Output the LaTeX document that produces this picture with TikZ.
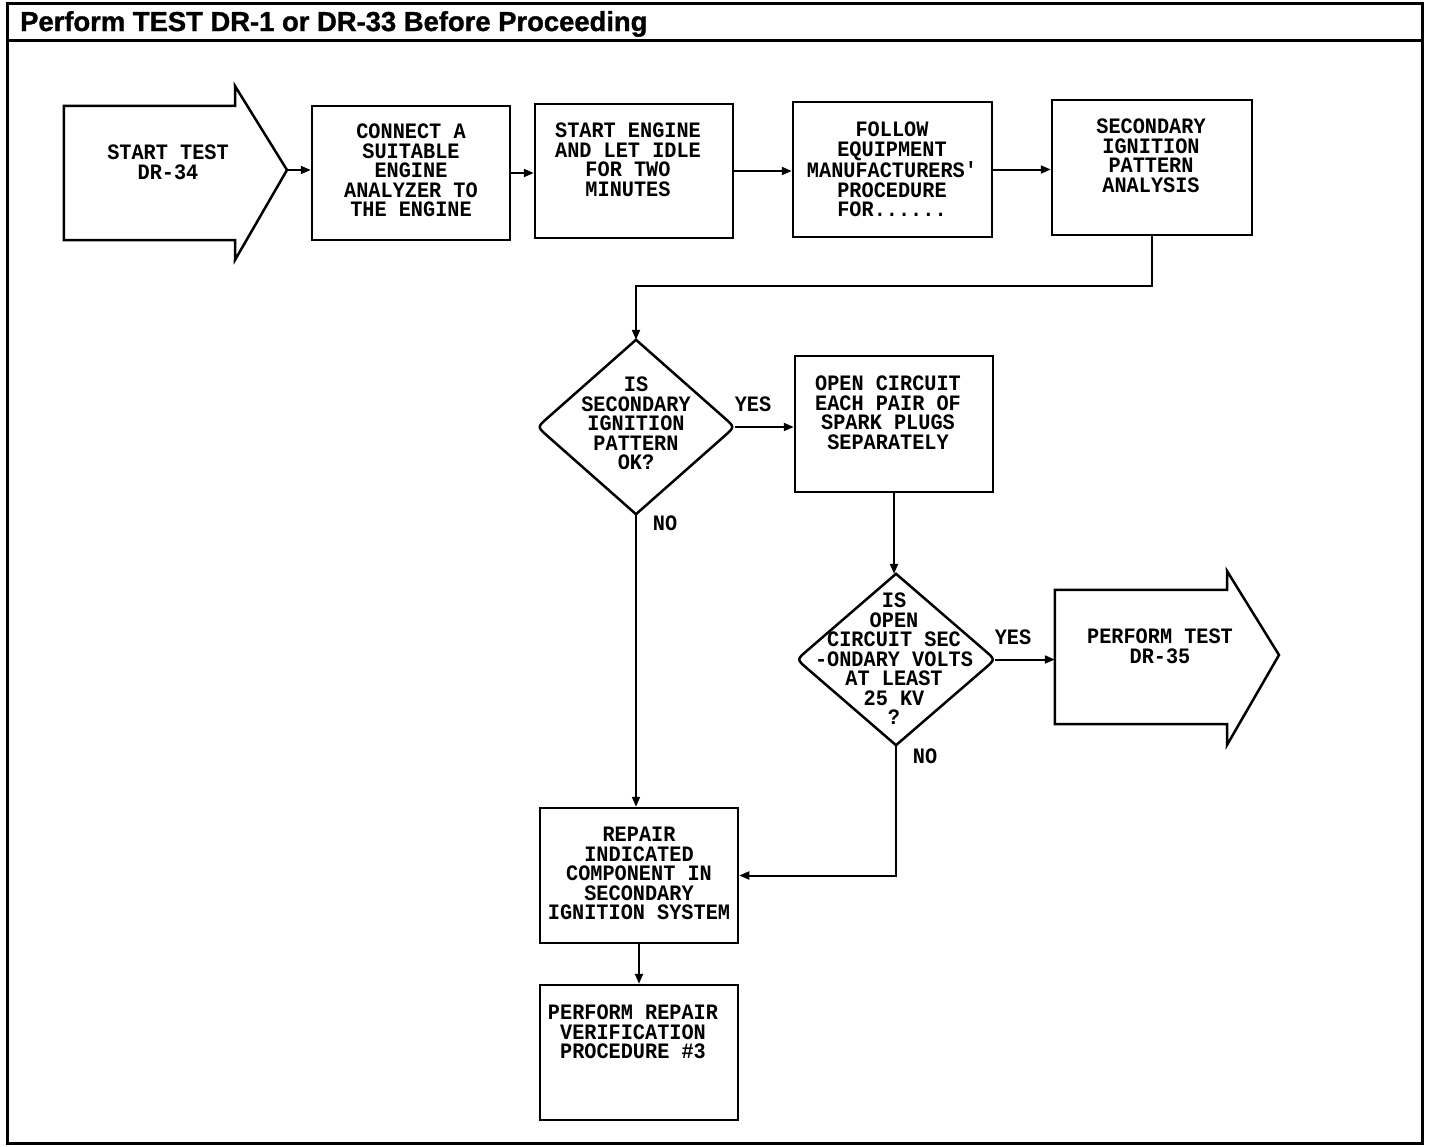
\documentclass[tikz,border=0pt]{standalone}
\usepackage{fontspec}
\setmainfont{Liberation Sans}
\newfontfamily\plotfont[FakeStretch=0.92]{Liberation Mono}
\newfontfamily\titlefont[FakeBold=1.2]{Liberation Sans}
\usetikzlibrary{arrows.meta,calc,shapes.geometric}
\tikzset{
  boxst/.style={draw, line width=2.5pt, rectangle, inner sep=0pt},
  ghost/.style={draw=none, rectangle, inner sep=0pt},
  outl/.style={line width=2.5pt, line join=miter},
  txt/.style={font=\plotfont\bfseries\fontsize{22}{19.5}\selectfont, align=center, inner sep=0pt, anchor=north},
  lbl/.style={font=\plotfont\bfseries\fontsize{22}{19.5}\selectfont, inner sep=0pt},
  conn/.style={line width=2pt, -{Triangle[length=10pt,width=8pt]}},
  dshape/.style={diamond, draw=none, inner sep=0pt}
}
\begin{document}
\begin{tikzpicture}[x=1pt,y=-1pt]
\useasboundingbox (0,0) rectangle (1440,1146);
% frame
\node[draw, line width=3pt, rectangle, inner sep=0pt, minimum width=1415pt, minimum height=1140pt] (frame) at (714.5,573) {};
\draw[line width=3pt] (frame.west |- 0,40) -- (frame.east |- 0,40);
\node[anchor=base west, font=\titlefont\bfseries\fontsize{27.4}{30}\selectfont, inner sep=0pt] (title) at (20,31) {Perform TEST DR-1 or DR-33 Before Proceeding};

% start arrow
\node[ghost, minimum width=171pt, minimum height=134pt] (sa) at (149.5,173) {};
\coordinate (satop) at (235,86);
\coordinate (satip) at (287,170);
\coordinate (sabot) at (235,260);
\draw[outl] (sa.north east) -- (satop) -- (satip) -- (sabot) -- (sa.south east) -- (sa.south west) -- (sa.north west) -- cycle;
\node[txt] (tsa) at (168,145) {START TEST\\DR-34};

% boxes top row
\node[boxst, minimum width=198pt, minimum height=134pt] (b2) at (411,173) {};
\node[txt] (t2) at (411,124) {CONNECT A\\SUITABLE\\ENGINE\\ANALYZER TO\\THE ENGINE};
\node[boxst, minimum width=198pt, minimum height=134pt] (b3) at (634,171) {};
\node[txt] (t3) at (628,123) {START ENGINE\\AND LET IDLE\\FOR TWO\\MINUTES};
\node[boxst, minimum width=199pt, minimum height=135pt] (b4) at (892.5,169.5) {};
\node[txt] (t4) at (892,122) {FOLLOW\\EQUIPMENT\\MANUFACTURERS'\\PROCEDURE\\FOR......};
\node[boxst, minimum width=200pt, minimum height=135pt] (b5) at (1152,167.5) {};
\node[txt] (t5) at (1151,119) {SECONDARY\\IGNITION\\PATTERN\\ANALYSIS};

% diamond 1
\node[dshape, minimum width=197pt, minimum height=174pt] (d1) at (636,427) {};
\draw[outl] (d1.north) -- ($(d1.east)!0.1!(d1.north)$) .. controls (d1.east) .. ($(d1.east)!0.1!(d1.south)$) -- (d1.south) -- ($(d1.west)!0.1!(d1.south)$) .. controls (d1.west) .. ($(d1.west)!0.1!(d1.north)$) -- cycle;
\node[txt] (td1) at (636,377) {IS\\SECONDARY\\IGNITION\\PATTERN\\OK?};

% box open circuit
\node[boxst, minimum width=198pt, minimum height=136pt] (b9) at (894,424) {};
\node[txt] (t9) at (888,376) {OPEN CIRCUIT\\EACH PAIR OF\\SPARK PLUGS\\SEPARATELY};

% diamond 2
\node[dshape, minimum width=198pt, minimum height=171pt] (d2) at (896,659.5) {};
\draw[outl] (d2.north) -- ($(d2.east)!0.1!(d2.north)$) .. controls (d2.east) .. ($(d2.east)!0.1!(d2.south)$) -- (d2.south) -- ($(d2.west)!0.1!(d2.south)$) .. controls (d2.west) .. ($(d2.west)!0.1!(d2.north)$) -- cycle;
\node[txt] (td2) at (894,593) {IS\\OPEN\\CIRCUIT SEC\\-ONDARY VOLTS\\AT LEAST\\25 KV\\?};

% end arrow
\node[ghost, minimum width=172pt, minimum height=134pt] (ea) at (1141,657) {};
\coordinate (eatop) at (1227,571);
\coordinate (eatip) at (1279,655);
\coordinate (eabot) at (1227,745);
\draw[outl] (ea.north west) -- (ea.north east) -- (eatop) -- (eatip) -- (eabot) -- (ea.south east) -- (ea.south west) -- cycle;
\node[txt] (tea) at (1160,629) {PERFORM TEST\\DR-35};

% bottom boxes
\node[boxst, minimum width=198pt, minimum height=135pt] (b15) at (639,875.5) {};
\node[txt] (t15) at (639,827) {REPAIR\\INDICATED\\COMPONENT IN\\SECONDARY\\IGNITION SYSTEM};
\node[boxst, minimum width=198pt, minimum height=135pt] (b17) at (639,1052.5) {};
\node[txt] (t17) at (633,1005) {PERFORM REPAIR\\VERIFICATION\\PROCEDURE \#3};

% labels
\node[lbl] (yes1) at (753,404) {YES};
\node[lbl] (no1) at (665,523) {NO};
\node[lbl] (yes2) at (1013,637) {YES};
\node[lbl] (no2) at (925,756) {NO};

% connectors
\draw[conn] (satip) -- (satip -| b2.west);
\draw[conn] (b2.east) -- (b2.east -| b3.west);
\draw[conn] (b3.east) -- (b3.east -| b4.west);
\draw[conn] (b4.east) -- (b4.east -| b5.west);
\coordinate (elbow1) at (636,286);
\draw[conn] (b5.south) |- (elbow1) -- (d1.north);
\draw[conn] (d1.east) -- (d1.east -| b9.west);
\draw[conn] (d1.south) -- (d1.south |- b15.north);
\draw[conn] (b9.south) -- (b9.south |- d2.north);
\draw[conn] (d2.east) -- (d2.east -| ea.west);
\draw[conn] (d2.south) |- (b15.east);
\draw[conn] (b15.south) -- (b17.north);
\end{tikzpicture}
\end{document}
